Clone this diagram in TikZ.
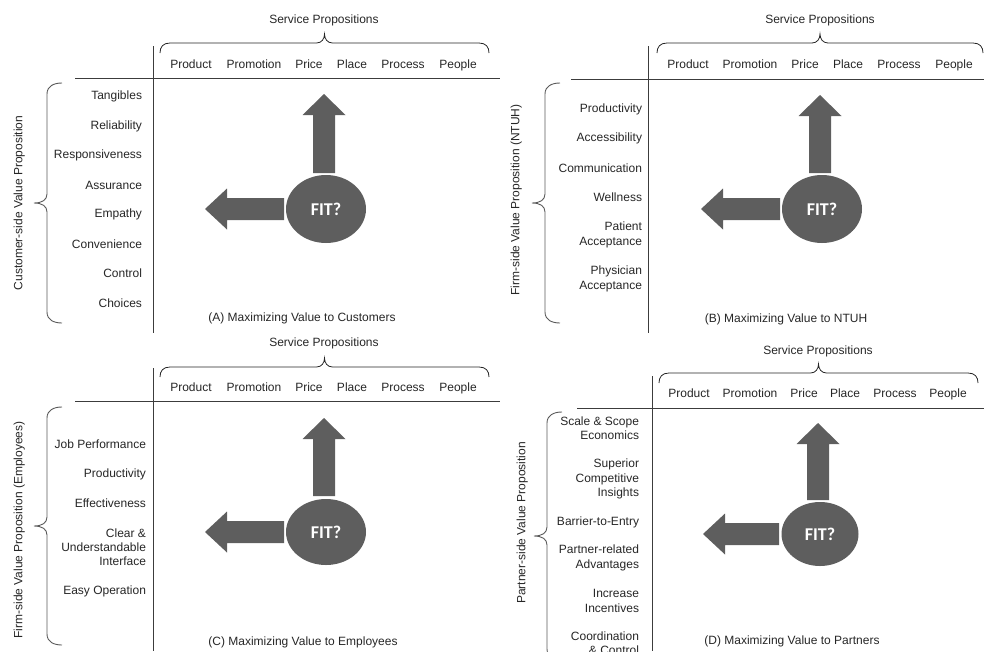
\documentclass[tikz,border=0pt]{standalone}
\usepackage{fontspec}
\setmainfont{Liberation Sans}
\newfontfamily\fitfont{Carlito}
\usetikzlibrary{shapes.geometric}

\definecolor{txt}{HTML}{262626}
\definecolor{rule}{HTML}{3C3C3C}
\definecolor{brc}{HTML}{5A5A5A}
\definecolor{blk}{HTML}{5E5E5E}

\tikzset{
  every node/.style={inner sep=0pt, outer sep=0pt},
  lbl/.style={font=\fontsize{12}{14.3}\selectfont, text=txt},
  onel/.style={lbl, text height=8.6pt, text depth=0pt},
  collbl/.style={onel, anchor=center},
  rowlbl/.style={lbl, anchor=east, align=right},
  sidelbl/.style={onel, rotate=90, anchor=center},
  caplbl/.style={onel, anchor=center},
  ttl/.style={onel, anchor=center},
  sep/.style={draw=rule, line width=0.9pt},
  fitnode/.style={ellipse, fill=blk, text=white,
    font=\fitfont\bfseries\fontsize{18}{18}\selectfont},
  % brace over the column labels; origin = left end, #1 = width
  pics/topbrace/.style={code={
    \draw[draw=txt, line width=0.8pt]
      (0,0) .. controls (0,-6) and (3,-10) .. (10,-10)
      -- ({#1/2-8},-10) .. controls ({#1/2-3},-10) and ({#1/2},-14) .. ({#1/2},-19)
      .. controls ({#1/2},-14) and ({#1/2+3},-10) .. ({#1/2+8},-10)
      -- ({#1-10},-10) .. controls ({#1-3},-10) and (#1,-6) .. (#1,0);
  }},
  % brace beside the row labels; origin = top end, #1 = height
  pics/sidebrace/.style={code={
    \draw[draw=brc, line width=0.9pt]
      (0,0) .. controls (-8,0) and (-15,3) .. (-15,11)
      -- (-15,{#1/2-9}) .. controls (-15,{#1/2-3}) and (-20,{#1/2}) .. (-28,{#1/2})
      .. controls (-20,{#1/2}) and (-15,{#1/2+3}) .. (-15,{#1/2+9})
      -- (-15,{#1-11}) .. controls (-15,{#1-3}) and (-8,#1) .. (0,#1);
  }},
  % block arrow pointing up; origin = tip, #1 = length
  pics/uparrow/.style={code={
    \fill[blk] (0,0) -- (21.5,21) -- (11,21) -- (11,#1) -- (-11,#1)
      -- (-11,21) -- (-21.5,21) -- cycle;
  }},
  % block arrow pointing left; origin = tip, #1 = length
  pics/leftarrow/.style={code={
    \fill[blk] (0,0) -- (22,-20.5) -- (22,-11) -- (#1,-11) -- (#1,11)
      -- (22,11) -- (22,20.5) -- cycle;
  }},
}

\begin{document}
\begin{tikzpicture}[x=1pt, y=-1pt]
\useasboundingbox (0,0) rectangle (984,651);
\clip (0,0) rectangle (984,651);

% ---------------- (A) customers ----------------
\node[ttl] (A-title) at (324,19) {Service Propositions};
\pic (A-tb) at (160,53) {topbrace=329};
\draw[sep] (153,46) -- (153,333);
\draw[sep] (75,78) -- (500,78);
\node[collbl] (A-c1) at (191,64) {Product};
\node[collbl] (A-c2) at (254,64) {Promotion};
\node[collbl] (A-c3) at (309,64) {Price};
\node[collbl] (A-c4) at (352,64) {Place};
\node[collbl] (A-c5) at (403,64) {Process};
\node[collbl] (A-c6) at (458,64) {People};
\node[rowlbl] (A-r1) at (142,96) {Tangibles};
\node[rowlbl] (A-r2) at (142,126) {Reliability};
\node[rowlbl] (A-r3) at (142,155) {Responsiveness};
\node[rowlbl] (A-r4) at (142,185) {Assurance};
\node[rowlbl] (A-r5) at (142,214) {Empathy};
\node[rowlbl] (A-r6) at (142,244) {Convenience};
\node[rowlbl] (A-r7) at (142,273) {Control};
\node[rowlbl] (A-r8) at (142,303) {Choices};
\pic (A-sb) at (62,83) {sidebrace=240};
\node[sidelbl] (A-side) at (18,203) {Customer-side Value Proposition};
\node[fitnode, minimum width=80pt, minimum height=68pt] (A-fit) at (326,209) {FIT?};
\pic (A-up) at (324,94) {uparrow=79};
\pic (A-left) at (205,209) {leftarrow=79};
\node[caplbl] (A-cap) at (302,317) {(A) Maximizing Value to Customers};

% ---------------- (B) NTUH ----------------
\node[ttl] (B-title) at (820,19) {Service Propositions};
\pic (B-tb) at (657,53) {topbrace=326};
\draw[sep] (648,46) -- (648,333);
\draw[sep] (571,79) -- (984,79);
\node[collbl] (B-c1) at (688,64) {Product};
\node[collbl] (B-c2) at (750,64) {Promotion};
\node[collbl] (B-c3) at (805,64) {Price};
\node[collbl] (B-c4) at (848,64) {Place};
\node[collbl] (B-c5) at (899,64) {Process};
\node[collbl] (B-c6) at (954,64) {People};
\node[rowlbl] (B-r1) at (642,109) {Productivity};
\node[rowlbl] (B-r2) at (642,138) {Accessibility};
\node[rowlbl] (B-r3) at (642,168) {Communication};
\node[rowlbl] (B-r4) at (642,197) {Wellness};
\node[rowlbl] (B-r5) at (642,235) {Patient\\Acceptance};
\node[rowlbl] (B-r6) at (642,279) {Physician\\Acceptance};
\pic (B-sb) at (560,83) {sidebrace=240};
\node[sidelbl] (B-side) at (515,200) {Firm-side Value Proposition (NTUH)};
\node[fitnode, minimum width=80pt, minimum height=68pt] (B-fit) at (822,209) {FIT?};
\pic (B-up) at (820,95) {uparrow=78};
\pic (B-left) at (701,209) {leftarrow=79};
\node[caplbl] (B-cap) at (786,318) {(B) Maximizing Value to NTUH};

% ---------------- (C) employees ----------------
\node[ttl] (C-title) at (324,342) {Service Propositions};
\pic (C-tb) at (160,377) {topbrace=329};
\draw[sep] (153,368) -- (153,651);
\draw[sep] (75,401) -- (500,401);
\node[collbl] (C-c1) at (191,387) {Product};
\node[collbl] (C-c2) at (254,387) {Promotion};
\node[collbl] (C-c3) at (309,387) {Price};
\node[collbl] (C-c4) at (352,387) {Place};
\node[collbl] (C-c5) at (403,387) {Process};
\node[collbl] (C-c6) at (458,387) {People};
\node[rowlbl] (C-r1) at (146,444) {Job Performance};
\node[rowlbl] (C-r2) at (146,474) {Productivity};
\node[rowlbl] (C-r3) at (146,503) {Effectiveness};
\node[rowlbl] (C-r4) at (146,547) {Clear \&\\Understandable\\Interface};
\node[rowlbl] (C-r5) at (146,591) {Easy Operation};
\pic (C-sb) at (62,407) {sidebrace=238};
\node[sidelbl] (C-side) at (18,530) {Firm-side Value Proposition (Employees)};
\node[fitnode, minimum width=80pt, minimum height=66pt] (C-fit) at (326,532) {FIT?};
\pic (C-up) at (324,418) {uparrow=78};
\pic (C-left) at (205,532) {leftarrow=79};
\node[caplbl] (C-cap) at (303,641) {(C) Maximizing Value to Employees};

% ---------------- (D) partners ----------------
\node[ttl] (D-title) at (818,350) {Service Propositions};
\pic (D-tb) at (659,383) {topbrace=319};
\draw[sep] (652,376) -- (652,651);
\draw[sep] (577,408) -- (984,408);
\node[collbl] (D-c1) at (689,393) {Product};
\node[collbl] (D-c2) at (750,393) {Promotion};
\node[collbl] (D-c3) at (804,393) {Price};
\node[collbl] (D-c4) at (845,393) {Place};
\node[collbl] (D-c5) at (895,393) {Process};
\node[collbl] (D-c6) at (948,393) {People};
\node[rowlbl] (D-r1) at (639,428) {Scale \& Scope\\Economics};
\node[rowlbl] (D-r2) at (639,479) {Superior\\Competitive\\Insights};
\node[rowlbl] (D-r3) at (639,522) {Barrier-to-Entry};
\node[rowlbl] (D-r4) at (639,558) {Partner-related\\Advantages};
\node[rowlbl] (D-r5) at (639,601) {Increase\\Incentives};
\node[rowlbl] (D-r6) at (639,643) {Coordination\\\& Control};
\pic (D-sb) at (562,412) {sidebrace=248};
\node[sidelbl] (D-side) at (521,523) {Partner-side Value Proposition};
\node[fitnode, minimum width=77pt, minimum height=64pt] (D-fit) at (820,534) {FIT?};
\pic (D-up) at (818,423) {uparrow=77};
\pic (D-left) at (703,534) {leftarrow=76};
\node[caplbl] (D-cap) at (792,640) {(D) Maximizing Value to Partners};
\end{tikzpicture}
\end{document}
